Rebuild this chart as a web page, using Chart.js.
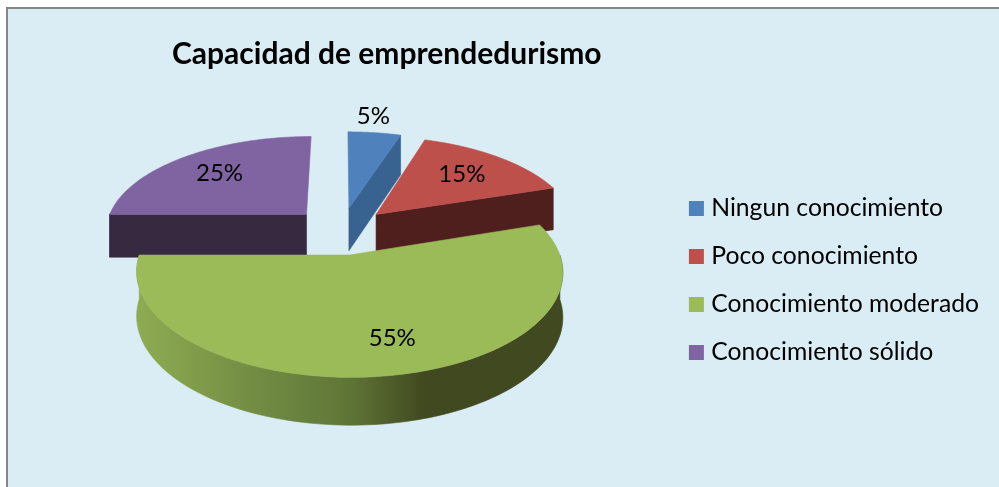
<!DOCTYPE html>
<html>
<head>
<meta charset="utf-8">
<title>Capacidad de emprendedurismo</title>
<script src="https://cdn.jsdelivr.net/npm/chart.js@4"></script>
<style>
  html, body { margin: 0; padding: 0; background: #fff; width: 999px; height: 487px; overflow: hidden; }
  #marco { position: absolute; left: 6px; top: 7px; right: 0; bottom: 0; background: #daedf4;
           border-left: 2px solid #878787; border-top: 2px solid #878787; }
  #grafica { position: absolute; left: 0; top: 0; }
</style>
</head>
<body>
<div id="marco"></div>
<canvas id="grafica" width="999" height="487"></canvas>
<script>
const titulo = "Capacidad de emprendedurismo";
const categorias = ["Ningun conocimiento", "Poco conocimiento", "Conocimiento moderado", "Conocimiento sólido"];
const valores = [5, 15, 55, 25];
const colores = ["#4f81bd", "#be504c", "#9bbb59", "#8064a2"];
const coloresLado = ["#38628f", "#4f1f1e", "#40491f", "#37293f"];
const radioEtiqueta = [1.25, 0.68, 0.74, 0.69];
const giroEtiqueta = [-1.5, 0, -3.5, 0];

// vista 3D: todo relativo al radio que calcula Chart.js
const vista = { ancho: 0.98, alto: 0.459, perspectiva: 0.156, fondo: 0.21, perspFondo: 0.076, separacion: 0.25, subir: 50 };

const pastel3d = {
  id: "pastel3d",
  afterLayout(chart) {
    chart.titleBlock.left = 172;
    chart.legend.top += 37;
    chart.legend.bottom += 37;
  },
  beforeDatasetsDraw(chart) {
    const ctx = chart.ctx;
    const arcos = chart.getDatasetMeta(0).data;
    const total = valores.reduce((a, b) => a + b, 0);

    function proyecta(arco, u, v, abajo) {
      const R = arco.outerRadius;
      const w = 1 - vista.perspectiva * v;
      return {
        x: arco.x + R * vista.ancho * u / w,
        y: arco.y - vista.subir + R * vista.alto * v / w + (abajo ? R * vista.fondo / (1 - vista.perspFondo * v) : 0)
      };
    }

    function poligono(puntos, relleno) {
      ctx.beginPath();
      puntos.forEach((p, i) => i ? ctx.lineTo(p.x, p.y) : ctx.moveTo(p.x, p.y));
      ctx.closePath();
      ctx.fillStyle = relleno;
      ctx.strokeStyle = relleno;
      ctx.lineWidth = 0.6;
      ctx.fill();
      ctx.stroke();
    }

    ctx.save();
    // de atrás hacia delante: violeta, azul, rojo, verde
    [3, 0, 1, 2].forEach(i => {
      const arco = arcos[i];
      const ini = arco.startAngle, fin = arco.endAngle;
      const medio = (ini + fin) / 2;
      const u0 = vista.separacion * Math.cos(medio);
      const v0 = vista.separacion * Math.sin(medio);
      const borde = [];
      const pasos = 120;
      for (let k = 0; k <= pasos; k++) {
        const t = ini + (fin - ini) * k / pasos;
        borde.push({ t, u: u0 + Math.cos(t), v: v0 + Math.sin(t) });
      }
      const p = (q, abajo) => proyecta(arco, q.u, q.v, abajo);
      const punta = { u: u0, v: v0 };

      // paredes rectas, solo las que miran al frente
      if (Math.sin(ini - Math.PI / 2) > 0.01) {
        const q = borde[0];
        poligono([p(punta, false), p(q, false), p(q, true), p(punta, true)], coloresLado[i]);
      }
      if (Math.sin(fin + Math.PI / 2) > 0.01) {
        const q = borde[pasos];
        poligono([p(punta, false), p(q, false), p(q, true), p(punta, true)], coloresLado[i]);
      }

      // pared curva, solo la parte que mira al frente
      const frente = borde.filter(q => Math.sin(q.t) > -0.02);
      if (frente.length > 1) {
        let relleno = coloresLado[i];
        if (i === 2) {
          const a = p(frente[frente.length - 1], false).x;
          const b = p(frente[0], false).x;
          relleno = ctx.createLinearGradient(a, 0, b, 0);
          relleno.addColorStop(0, "#8dab52");
          relleno.addColorStop(0.3, "#708a42");
          relleno.addColorStop(0.5, "#5f7537");
          relleno.addColorStop(0.68, "#40491f");
          relleno.addColorStop(1, "#40491f");
        }
        poligono(frente.map(q => p(q, false)).concat(frente.slice().reverse().map(q => p(q, true))), relleno);
      }

      // cara de arriba
      poligono([p(punta, false)].concat(borde.map(q => p(q, false))), arco.options.backgroundColor);
    });

    // porcentajes
    ctx.fillStyle = "#000";
    ctx.font = "24px Lato";
    ctx.textAlign = "center";
    ctx.textBaseline = "middle";
    arcos.forEach((arco, i) => {
      const medio = (arco.startAngle + arco.endAngle) / 2 + giroEtiqueta[i] * Math.PI / 180;
      const r = vista.separacion + radioEtiqueta[i];
      const q = proyecta(arco, r * Math.cos(medio), r * Math.sin(medio), false);
      ctx.fillText(Math.round(valores[i] / total * 100) + "%", q.x, q.y);
    });
    ctx.restore();
    return false;
  }
};

new Chart(document.getElementById("grafica"), {
  type: "pie",
  data: {
    labels: categorias,
    datasets: [{ data: valores, backgroundColor: colores, borderWidth: 0 }]
  },
  options: {
    responsive: false,
    animation: false,
    layout: { padding: { left: 12, right: 10, top: 0, bottom: 0 } },
    plugins: {
      tooltip: { enabled: false },
      title: {
        display: true,
        text: titulo,
        align: "start",
        color: "#000",
        font: { family: "Lato", size: 30, weight: "bold" },
        padding: { top: 36, bottom: 2.4 }
      },
      legend: {
        position: "right",
        labels: {
          color: "#000",
          font: { family: "Lato", size: 24.7 },
          boxWidth: 5,
          boxHeight: 5,
          padding: 23.3,
          generateLabels: chart => categorias.map((c, i) => ({
            text: c,
            fillStyle: colores[i],
            strokeStyle: colores[i],
            lineWidth: 10,
            index: i
          }))
        }
      }
    }
  },
  plugins: [pastel3d]
});
</script>
</body>
</html>
